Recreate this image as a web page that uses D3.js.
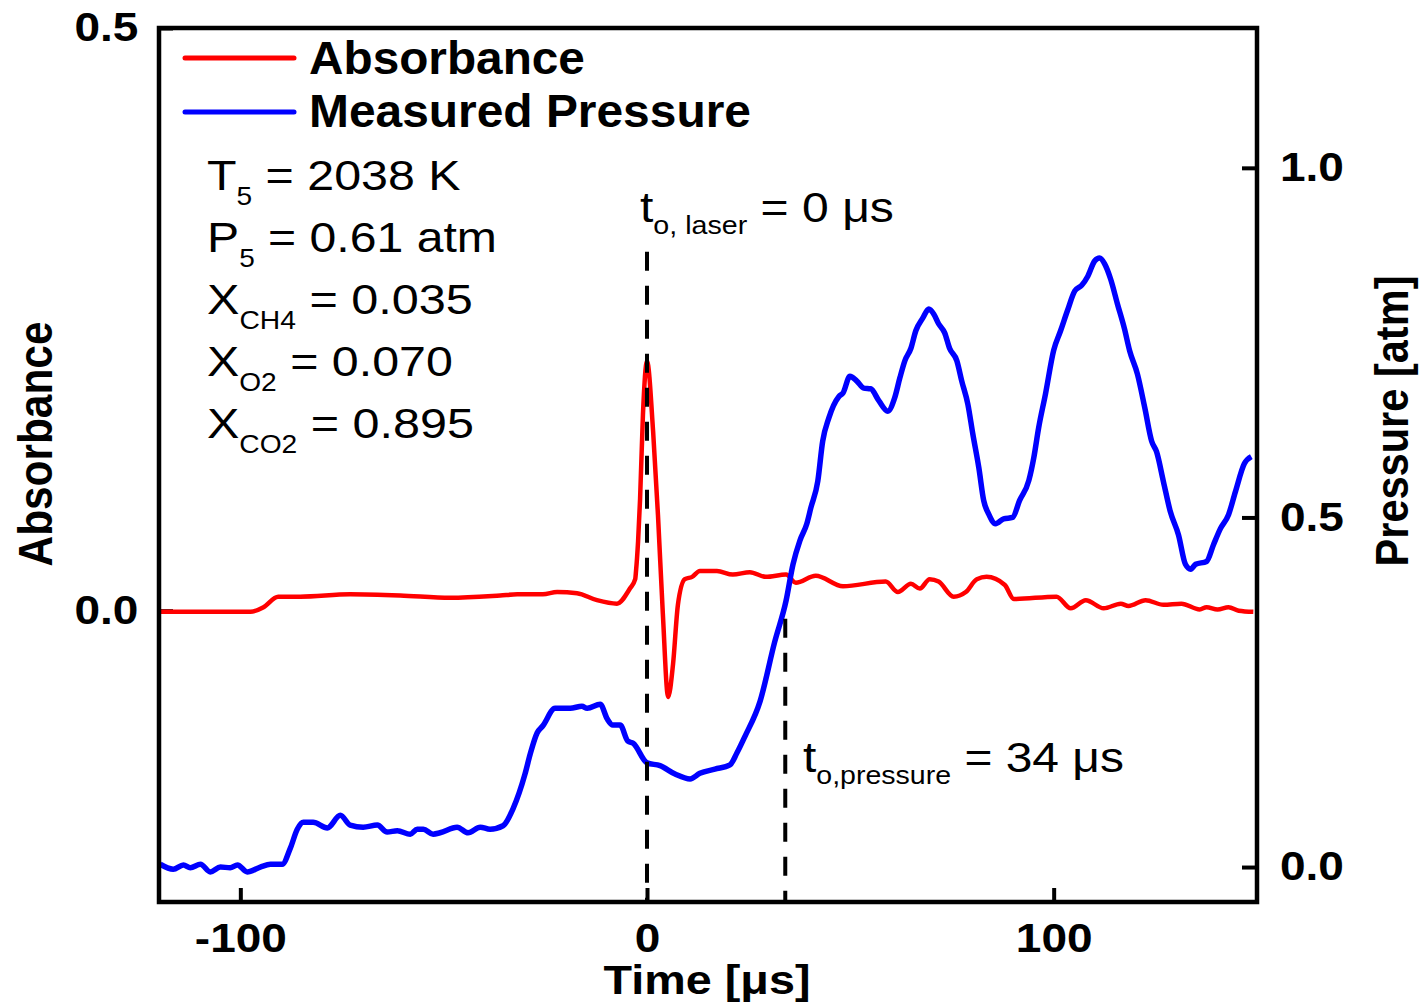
<!DOCTYPE html>
<html><head><meta charset="utf-8">
<script src="https://cdn.jsdelivr.net/npm/d3@7"></script>
<style>body{margin:0;background:#fff}svg{display:block}text{white-space:pre}</style>
</head><body>
<svg id="c" width="1420" height="1004"></svg>
<script>
// ---------------- data ----------------
const absTime = [-119.7,-109.8,-97.5,-94.3,-90.7,-85.3,-73.0,-60.7,-48.4,-36.1,-31.9,-25.6,-22.1,-17.2,-12.3,-7.4,-4.2,-2.9,-2.7,-2.2,-1.7,-1.0,0.0,1.5,2.7,3.9,5.2,6.4,7.6,9.3,11.1,13.0,17.2,21.1,25.3,29.2,34.2,36.6,41.5,48.2,58.7,61.7,64.9,67.1,69.5,71.7,75.4,78.4,81.1,83.5,88.0,90.2,100.7,104.2,107.9,112.3,116.5,118.4,122.6,127.0,131.4,135.9,137.6,140.3,143.0,145.5,149.1];
const absValue = [-0.001,-0.001,-0.001,0.003,0.012,0.012,0.014,0.013,0.011,0.013,0.014,0.014,0.016,0.015,0.009,0.006,0.019,0.027,0.034,0.059,0.096,0.168,0.214,0.154,0.082,-0.003,-0.074,-0.046,0.005,0.027,0.029,0.034,0.034,0.031,0.033,0.029,0.031,0.024,0.030,0.021,0.025,0.016,0.023,0.019,0.027,0.025,0.012,0.016,0.027,0.029,0.022,0.010,0.012,0.002,0.009,0.002,0.006,0.004,0.009,0.005,0.006,0.001,0.003,0.001,0.003,0.000,-0.001];
const presTime = [-119.7,-116.5,-114.0,-112.3,-109.8,-107.4,-104.9,-102.5,-100.7,-98.3,-95.1,-92.6,-89.7,-87.7,-86.0,-84.5,-82.1,-78.6,-75.4,-73.0,-69.8,-66.3,-63.9,-61.4,-58.2,-56.5,-55.0,-52.6,-50.9,-46.7,-44.0,-41.0,-38.6,-35.4,-32.9,-30.0,-28.7,-27.0,-25.6,-22.6,-18.9,-16.0,-14.7,-11.5,-9.8,-8.4,-6.6,-4.7,-3.4,0.0,3.2,6.9,10.6,13.0,16.7,20.4,22.1,24.1,27.8,31.4,34.2,35.9,37.6,39.3,40.3,42.0,43.2,44.7,47.2,48.2,49.9,51.6,53.3,55.0,57.0,59.2,60.9,62.2,63.4,64.9,66.1,67.8,69.3,70.5,71.7,73.2,74.4,76.2,77.4,78.9,80.1,81.6,82.8,84.0,85.7,87.7,89.9,91.6,93.9,95.1,96.3,98.0,100.0,101.7,103.4,105.2,106.9,108.4,110.1,111.3,112.5,114.0,115.7,117.4,118.7,120.6,122.4,124.1,125.3,127.0,128.7,130.7,132.4,133.7,134.9,137.6,139.3,141.0,143.0,144.7,146.9,148.6];
const presValue = [0.004,-0.003,0.003,-0.001,0.004,-0.007,0.000,-0.001,0.003,-0.007,0.000,0.004,0.004,0.027,0.054,0.064,0.064,0.056,0.074,0.060,0.057,0.060,0.050,0.052,0.047,0.054,0.054,0.047,0.049,0.057,0.049,0.057,0.054,0.059,0.084,0.133,0.162,0.192,0.202,0.227,0.227,0.230,0.227,0.233,0.212,0.203,0.203,0.180,0.177,0.149,0.145,0.133,0.126,0.134,0.140,0.146,0.163,0.187,0.237,0.322,0.381,0.433,0.467,0.491,0.514,0.552,0.609,0.642,0.673,0.678,0.702,0.695,0.685,0.684,0.667,0.652,0.671,0.700,0.724,0.742,0.767,0.785,0.798,0.791,0.777,0.764,0.742,0.724,0.695,0.662,0.620,0.571,0.524,0.505,0.491,0.498,0.500,0.524,0.553,0.585,0.628,0.677,0.739,0.767,0.796,0.824,0.832,0.845,0.867,0.871,0.863,0.841,0.805,0.770,0.738,0.705,0.657,0.609,0.594,0.551,0.508,0.475,0.433,0.426,0.433,0.437,0.461,0.484,0.504,0.537,0.577,0.587];
const xTicks = [-100, 0, 100];
const absTicks = [0, 0.5];
const presTicks = [0, 0.5, 1.0];
const seriesNames = ["Absorbance", "Measured Pressure"];
const seriesColors = ["#ff0000", "#0000ff"];
const conditionLabels = [["T","5"," = 2038 K"],["P","5"," = 0.61 atm"],["X","CH4"," = 0.035"],["X","O2"," = 0.070"],["X","CO2"," = 0.895"]];
const markerTimes = [0, 34];
const markerTopAbs = [0.308, -0.007];
const markerLabels = [["t","o, laser"," = 0 \u03bcs"],["t","o,pressure"," = 34 \u03bcs"]];
const xTitle = "Time [\u03bcs]", yTitle = "Absorbance", y2Title = "Pressure [atm]";

// ---------------- layout ----------------
const FONT = "'Liberation Sans', Arial, Helvetica, sans-serif";
const L = 159, R = 1257, T = 28, B = 902;
const svg = d3.select("#c");
svg.append("rect").attr("width",1420).attr("height",1004).attr("fill","#fff");

const x = d3.scaleLinear().domain([-120,150]).range([L,R]);
const yA = d3.scaleLinear().domain([-0.25,0.5]).range([B,T]);
const yP = d3.scaleLinear().domain([-0.05,1.2]).range([B,T]);

function addText(parent, px, py, parts, o) {
  const g = parent.append("g");
  const t = g.append("text").attr("font-family", FONT)
    .attr("font-weight", o.weight || "normal")
    .attr("text-anchor", o.anchor || "start").attr("fill", "#000");
  let prev = 0;
  parts.forEach(p => {
    const ts = t.append("tspan").attr("font-size", p.size).text(p.text);
    const d = (p.dy || 0) - prev;
    if (d) ts.attr("dy", d);
    prev = p.dy || 0;
  });
  const w = t.node().getBBox().width;
  const k = o.width ? o.width / w : (o.k || 1);
  g.attr("transform", `translate(${px},${py})${o.rotate ? " rotate(-90)" : ""} scale(${k},1)`);
  return g;
}

// axes (ticks inward)
const TK = 1.15;
function styleAxis(g) {
  g.select(".domain").remove();
  g.selectAll(".tick line").attr("stroke","#000").attr("stroke-width",4);
  g.selectAll(".tick text").attr("font-family",FONT).attr("font-weight","bold")
    .attr("font-size",40).attr("fill","#000").attr("transform",`scale(${TK},1)`);
}
svg.append("g").attr("transform",`translate(0,${B})`)
  .call(d3.axisBottom(x).tickValues(xTicks).tickSize(-14).tickPadding(22).tickFormat(d => String(d)))
  .call(styleAxis);
svg.append("g").attr("transform",`translate(${L},0)`)
  .call(d3.axisLeft(yA).tickValues(absTicks).tickSize(-14).tickPadding(18).tickFormat(d3.format(".1f")))
  .call(styleAxis);
svg.append("g").attr("transform",`translate(${R},0)`)
  .call(d3.axisRight(yP).tickValues(presTicks).tickSize(-15).tickPadding(20).tickFormat(d3.format(".1f")))
  .call(styleAxis);

// series
const absData = absTime.map((t,i) => [t, absValue[i]]);
const presData = presTime.map((t,i) => [t, presValue[i]]);
svg.append("path").datum(absData).attr("fill","none").attr("stroke",seriesColors[0])
  .attr("stroke-width",4.5).attr("stroke-linejoin","round")
  .attr("d", d3.line().curve(d3.curveMonotoneX).x(d => x(d[0])).y(d => yA(d[1])));
svg.append("path").datum(presData).attr("fill","none").attr("stroke",seriesColors[1])
  .attr("stroke-width",5.5).attr("stroke-linejoin","round")
  .attr("d", d3.line().curve(d3.curveMonotoneX).x(d => x(d[0])).y(d => yP(d[1])));

// dashed markers
markerTimes.forEach((t,i) => {
  svg.append("line").attr("x1",x(t)).attr("x2",x(t)).attr("y1",yA(markerTopAbs[i])).attr("y2",B)
    .attr("stroke","#000").attr("stroke-width",4).attr("stroke-dasharray","19,15");
});

// frame
svg.append("rect").attr("x",L).attr("y",T).attr("width",R-L).attr("height",B-T)
  .attr("fill","none").attr("stroke","#000").attr("stroke-width",4.5);

// legend
const legY = [58, 112], legTextY = [74, 127], legW = [276, 442];
seriesNames.forEach((n,i) => {
  svg.append("line").attr("x1",185).attr("x2",294).attr("y1",legY[i]).attr("y2",legY[i])
    .attr("stroke",seriesColors[i]).attr("stroke-width",5).attr("stroke-linecap","round");
  addText(svg, 309, legTextY[i], [{text:n,size:46}], {weight:"bold", width:legW[i]});
});

// conditions
const condW = [254, 290, 266, 246, 267];
conditionLabels.forEach((c,i) => {
  addText(svg, 207, 190 + i*62, [{text:c[0],size:43},{text:c[1],size:25,dy:15},{text:c[2],size:43,dy:0}], {width:condW[i]});
});

// marker labels
const mPos = [[640,222,254],[803,772,321]];
markerLabels.forEach((c,i) => {
  addText(svg, mPos[i][0], mPos[i][1], [{text:c[0],size:42},{text:c[1],size:25,dy:12},{text:c[2],size:42,dy:0}], {width:mPos[i][2]});
});

// axis titles
addText(svg, 707, 994, [{text:xTitle,size:40}], {weight:"bold", anchor:"middle", width:207});
addText(svg, 52, 444, [{text:yTitle,size:48}], {weight:"bold", anchor:"middle", width:245, rotate:true});
addText(svg, 1408, 421, [{text:y2Title,size:46}], {weight:"bold", anchor:"middle", width:291, rotate:true});
</script>
</body></html>
